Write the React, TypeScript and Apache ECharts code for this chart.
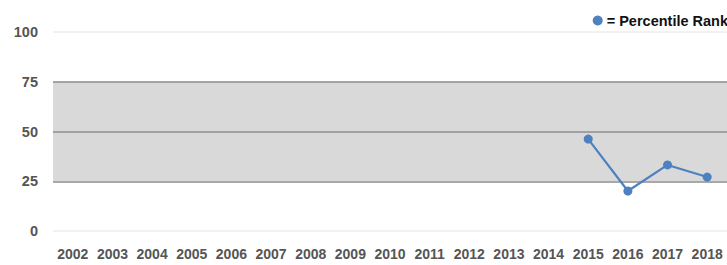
import React, { useEffect, useRef } from "react";
import * as echarts from "echarts";

const years = ["2002","2003","2004","2005","2006","2007","2008","2009","2010","2011","2012","2013","2014","2015","2016","2017","2018"];
const percentileRank: (number | null)[] = [null,null,null,null,null,null,null,null,null,null,null,null,null,46.2,20.1,33.2,27.1];
const yTicks = [0, 25, 50, 75, 100];

export default function App() {
  const ref = useRef<HTMLDivElement>(null);
  useEffect(() => {
    if (!ref.current) return;
    const chart = echarts.init(ref.current, undefined, { renderer: "svg" });
    const font = "'Liberation Sans', Arial, Helvetica, sans-serif";
    chart.setOption({
      animation: false,
      grid: { left: 53, top: 32, bottom: 34, width: 677 },
      legend: {
        right: -6,
        top: 8,
        icon: "circle",
        itemWidth: 10,
        itemHeight: 10,
        itemGap: 4,
        formatter: "= {name}",
        textStyle: { fontFamily: font, fontWeight: "bold", fontSize: 14.5, color: "#111", padding: [0, 0, 0, -1] },
        data: ["Percentile Rank"],
      },
      xAxis: {
        type: "category",
        data: years,
        boundaryGap: true,
        axisLine: { show: false },
        axisTick: { show: false },
        axisLabel: { interval: 0, hideOverlap: false, color: "#555", fontFamily: font, fontWeight: "bold", fontSize: 14, margin: 16 },
      },
      yAxis: {
        type: "value",
        min: yTicks[0],
        max: yTicks[yTicks.length - 1],
        interval: 25,
        axisLine: { show: false },
        axisTick: { show: false },
        axisLabel: { color: "#555", fontFamily: font, fontWeight: "bold", fontSize: 14.5, margin: 15 },
        splitLine: { show: true, lineStyle: { color: ["#eeeeee", "#8c8c8c", "#8c8c8c", "#8c8c8c", "#eeeeee"], width: 1.5 } },
        splitArea: { show: true, areaStyle: { color: ["rgba(0,0,0,0)", "#d9d9d9", "#d9d9d9", "rgba(0,0,0,0)"] } },
      },
      series: [
        {
          name: "Percentile Rank",
          type: "line",
          data: percentileRank,
          connectNulls: false,
          symbol: "circle",
          symbolSize: 9,
          itemStyle: { color: "#4e81c0" },
          lineStyle: { color: "#4e81c0", width: 2.2 },
        },
      ],
    });
    return () => chart.dispose();
  }, []);
  return <div ref={ref} style={{ width: 727, height: 265, position: "absolute", left: 0, top: 0 }} />;
}
